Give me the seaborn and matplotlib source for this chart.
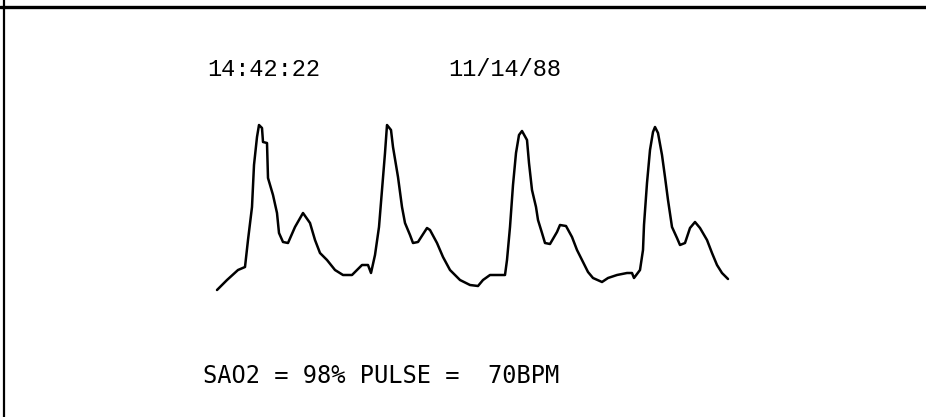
import matplotlib
matplotlib.use('Agg')
import matplotlib.pyplot as plt
import seaborn as sns

# pulse waveform (sample position, amplitude)
sample = [217, 227, 238, 245, 248, 252, 254, 257, 259, 262, 263, 267, 268, 273, 277, 279,
          283, 288, 295, 303, 310, 315, 320, 327, 335, 343, 352, 357, 362, 368, 371, 375,
          379, 382, 385, 387, 391, 393, 398, 402, 405, 410, 413, 418, 427, 430, 437, 443,
          450, 460, 470, 478, 483, 490, 505, 507, 510, 513, 516, 519, 522, 527, 529, 532,
          536, 538, 542, 545, 550, 557, 560, 566, 572, 577, 583, 588, 593, 602, 608, 617,
          627, 632, 634, 640, 643, 644, 647, 650, 653, 655, 658, 662, 665, 668, 672, 677,
          680, 685, 690, 695, 700, 707, 712, 717, 722, 728]
level = [290, 280, 270, 267, 240, 207, 165, 137, 125, 128, 142, 143, 178, 195, 213, 233,
         242, 243, 227, 213, 223, 240, 253, 260, 270, 275, 275, 270, 265, 265, 273, 255,
         227, 190, 153, 125, 130, 147, 177, 207, 223, 235, 243, 242, 228, 230, 243, 257,
         270, 280, 285, 286, 280, 275, 275, 260, 227, 185, 153, 135, 131, 140, 163, 190,
         207, 220, 233, 243, 244, 232, 225, 226, 237, 250, 262, 272, 278, 282, 278, 275,
         273, 273, 278, 270, 250, 225, 183, 150, 132, 127, 133, 155, 177, 200, 227, 238,
         245, 243, 228, 222, 228, 240, 253, 265, 273, 279]
amplitude = [300 - v for v in level]

time_str = '14:42:22'
date_str = '11/14/88'
reading_str = 'SAO2 = 98% PULSE =  70BPM'

sns.set_style('white')
plt.rcParams['font.family'] = ['DejaVu Sans Mono', 'DejaVu Sans']

fig = plt.figure(figsize=(9.26, 4.17), dpi=100)
ax = fig.add_axes([0, 0, 1, 1])

sns.lineplot(x=sample, y=amplitude, ax=ax, color='black', linewidth=1.8,
             estimator=None, sort=False)

ax.set_xlim(0, 926)
ax.set_ylim(-117, 300)
ax.axis('off')

# printout frame (top and left edge only)
ax.axhline(293, color='black', linewidth=2.4)
ax.axvline(4, color='black', linewidth=1.6)

W, H = 926, 417
fig.text(207 / W, 1 - 70 / H, time_str, fontsize=17, family='Liberation Mono',
         ha='left', va='center', color='black')
fig.text(448 / W, 1 - 70 / H, date_str, fontsize=17, family='Liberation Mono',
         ha='left', va='center', color='black')
fig.text(203 / W, 1 - 376 / H, reading_str, fontsize=17,
         ha='left', va='center', color='black')

fig.savefig('out.png', dpi=100, facecolor='white')
